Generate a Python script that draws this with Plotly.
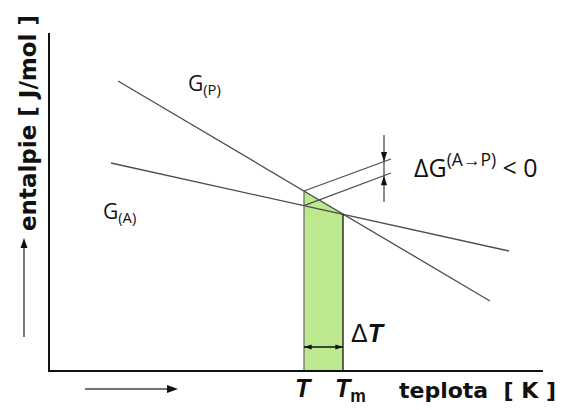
import numpy as np
import plotly.graph_objects as go

# ---- data (arbitrary temperature / enthalpy units) ----
gp_T = [68, 440]          # G(P) line, temperature ends
gp_G = [289, 69]          # G(P) line, enthalpy ends
ga_T = [61, 459]          # G(A) line
ga_G = [207, 119]
T_val = 254               # T
Tm_val = 293              # T_m
lead_end_T = 341          # leader lines end (ΔG marker)
lead_end_G = [211, 197]   # upper / lower leader end values
dg_x = 334                # ΔG double arrow position
dg_span = [235, 168]      # ΔG vertical marker extent
dT_level = 23             # ΔT arrow level

x_range = [0, 493]
y_range = [0, 337]

W, H = 567, 410
OFF = 8                   # page body margin of the browser
ML, MR, MT, MB = 50, 24, 33, 40   # positions as seen in the reference
PW, PH = W - ML - MR, H - MT - MB


def gP(t):
    return float(np.interp(t, gp_T, gp_G))


def gA(t):
    return float(np.interp(t, ga_T, ga_G))


def px(xp):
    return (xp - ML) / PW


def py(yp):
    return (H - MB - yp) / PH


gpT = gP(T_val)
gaT = gA(T_val)
gTm = gP(Tm_val)
LC = "#4d4d4d"

fig = go.Figure()

# green area
fig.add_trace(go.Scatter(
    x=[T_val, T_val, Tm_val, Tm_val, T_val], y=[0, gpT, gTm, 0, 0],
    fill="toself", fillcolor="#bde98e", mode="lines",
    line=dict(width=0), hoverinfo="skip"))

# G lines
fig.add_trace(go.Scatter(x=gp_T, y=gp_G, mode="lines", line=dict(color=LC, width=1.3)))
fig.add_trace(go.Scatter(x=ga_T, y=ga_G, mode="lines", line=dict(color=LC, width=1.3)))

# verticals at T and Tm
fig.add_trace(go.Scatter(x=[T_val, T_val], y=[0, gpT], mode="lines",
                         line=dict(color="#6e6e6e", width=1.3)))
fig.add_trace(go.Scatter(x=[Tm_val, Tm_val], y=[0, gTm], mode="lines",
                         line=dict(color="#111111", width=1.3)))

# leader lines
fig.add_trace(go.Scatter(x=[T_val, lead_end_T], y=[gpT, lead_end_G[0]], mode="lines",
                         line=dict(color=LC, width=1.3)))
fig.add_trace(go.Scatter(x=[T_val, lead_end_T], y=[gaT, lead_end_G[1]], mode="lines",
                         line=dict(color=LC, width=1.3)))

# ΔG vertical marker line
fig.add_trace(go.Scatter(x=[dg_x, dg_x], y=dg_span, mode="lines",
                         line=dict(color=LC, width=1.3)))

up_tip = float(np.interp(dg_x, [T_val, lead_end_T], [gpT, lead_end_G[0]]))
lo_tip = float(np.interp(dg_x, [T_val, lead_end_T], [gaT, lead_end_G[1]]))

# ΔG arrowheads
fig.add_trace(go.Scatter(x=[dg_x, dg_x], y=[up_tip, lo_tip], mode="markers",
                         marker=dict(symbol="arrow", size=10, angle=[180, 0],
                                     color="#111", line=dict(width=0))))

# ΔT double arrow
fig.add_trace(go.Scatter(x=[T_val, Tm_val], y=[dT_level, dT_level], mode="lines",
                         line=dict(color="#111", width=1.3)))
fig.add_trace(go.Scatter(x=[T_val, Tm_val], y=[dT_level, dT_level], mode="markers",
                         marker=dict(symbol="arrow", size=8, angle=[-90, 90],
                                     color="#111", line=dict(width=0))))

# axis direction arrows (outside the plot area -> paper shapes)
shapes = []
xl = px(24)
shapes.append(dict(type="line", xref="paper", yref="paper", x0=xl, x1=xl,
                   y0=py(337), y1=py(246), line=dict(color="#444", width=1.4)))
shapes.append(dict(type="path", xref="paper", yref="paper", fillcolor="#111",
                   line=dict(width=0),
                   path=f"M {px(24)} {py(238)} L {px(20.5)} {py(248)} L {px(27.5)} {py(248)} Z"))
yb = py(389)
shapes.append(dict(type="line", xref="paper", yref="paper", x0=px(85), x1=px(170),
                   y0=yb, y1=yb, line=dict(color="#444", width=1.4)))
shapes.append(dict(type="path", xref="paper", yref="paper", fillcolor="#111",
                   line=dict(width=0),
                   path=f"M {px(178)} {py(389)} L {px(167)} {py(385)} L {px(167)} {py(393)} Z"))


def label(x, y, text, size, family, xanchor="center", xref="paper", **kw):
    return dict(x=x, y=y, xref=xref, yref="paper", showarrow=False, text=text,
                xanchor=xanchor, yanchor="middle",
                font=dict(family=family, size=size, color="#111"), **kw)


ann = [
    label(px(28), py(123), "<b>entalpie [ J/mol ]</b>", 23, "DejaVu Sans", textangle=-90),
    label(px(397), py(390), "<b>teplota\u00a0\u00a0[\u00a0K\u00a0]</b>", 22, "DejaVu Sans",
          xanchor="left"),
    label(T_val, py(388), "<b><i>T</i></b>", 25, "Liberation Sans", xref="x"),
    label(Tm_val, py(390), "<b><i>T</i><sub>m</sub></b>", 25, "Liberation Sans",
          xanchor="left", xref="x", xshift=-10),
    label(px(186), py(84), "G<sub>(P)</sub>", 21, "Open Sans", xanchor="left"),
    label(px(101), py(212), "G<sub>(A)</sub>", 21, "Open Sans", xanchor="left"),
    label(px(412), py(165), "ΔG<sup>(A→P)</sup> &lt; 0", 25, "Open Sans", xanchor="left"),
    label(px(349), py(333), "Δ<b><i>T</i></b>", 25, "Liberation Sans", xanchor="left"),
]

fig.update_layout(
    width=W, height=H, autosize=False,
    margin=dict(l=ML - OFF, r=MR + OFF, t=MT - OFF, b=MB + OFF, pad=0),
    paper_bgcolor="white", plot_bgcolor="white",
    showlegend=False,
    annotations=ann, shapes=shapes,
    xaxis=dict(range=x_range, showline=True, linewidth=2, linecolor="#111",
               showgrid=False, zeroline=False, showticklabels=False, ticks=""),
    yaxis=dict(range=y_range, showline=True, linewidth=2, linecolor="#111",
               showgrid=False, zeroline=False, showticklabels=False, ticks=""),
)
fig.update_traces(showlegend=False, hoverinfo="skip")

fig.write_html("out.html")
